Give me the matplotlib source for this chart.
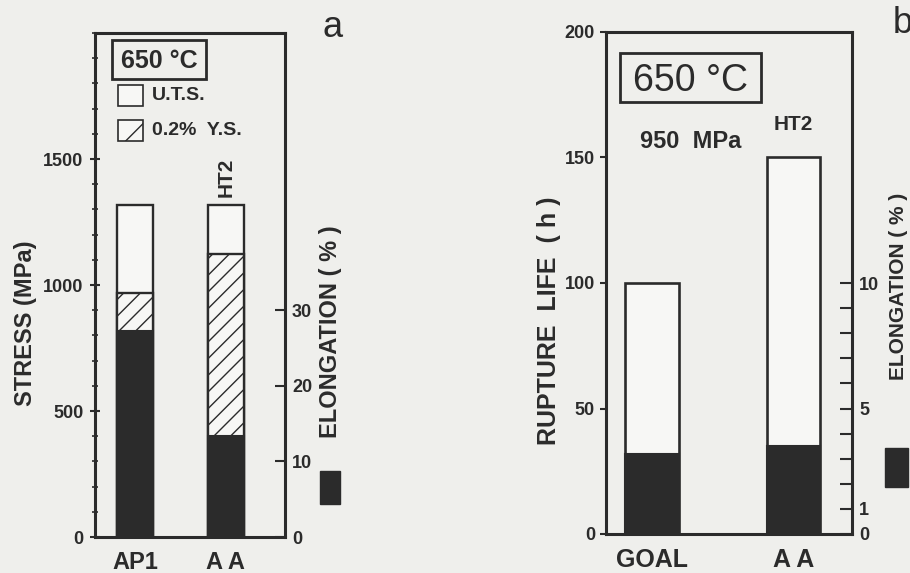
import matplotlib.pyplot as plt
from matplotlib.patches import Rectangle
from matplotlib.ticker import MultipleLocator, FixedLocator, FixedFormatter

plt.rcParams['font.family'] = ['Liberation Sans', 'DejaVu Sans']
plt.rcParams['font.weight'] = 'bold'
plt.rcParams['hatch.linewidth'] = 1.0

# panel a: tensile data at 650 C
alloys_a = ['AP1', 'A A']
uts = [1318, 1318]          # MPa
ys = [970, 1125]            # MPa, 0.2% yield strength
elong_a = [27.3, 13.3]      # %

# panel b: stress rupture at 650 C / 950 MPa
alloys_b = ['GOAL', 'A A']
rupture_life = [100, 150]   # h
elong_b = [3.2, 3.5]        # %

ink = '#2b2b2b'
bg = '#efefec'
face = '#f7f7f5'
W, H = 910, 573

fig = plt.figure(figsize=(9.1, 5.73), dpi=100, facecolor=bg)


def box(l, t, r, b):
    # pixel box -> figure fraction rect
    return [l / W, 1 - b / H, (r - l) / W, (b - t) / H]


def style(ax):
    ax.set_facecolor(bg)
    for s in ax.spines.values():
        s.set_linewidth(2.2)
        s.set_color(ink)


# ---------------- panel a ----------------
ax = fig.add_axes(box(95, 33, 285, 537))
style(ax)
xa = [0, 1]
ax.bar(xa, uts, width=0.40, color=face, edgecolor=ink, linewidth=1.7, zorder=2)
ax.bar(xa, ys, width=0.40, color=face, edgecolor=ink, linewidth=1.7, hatch='//', zorder=3)
ax.set_xlim(-0.44, 1.65)
ax.set_ylim(0, 2000)
ax.set_yticks([0, 500, 1000, 1500])
ax.yaxis.set_minor_locator(MultipleLocator(100))
ax.tick_params(axis='y', which='major', direction='inout', length=7, width=1.5,
               labelsize=13, pad=5, colors=ink)
ax.tick_params(axis='y', which='minor', direction='inout', length=5, width=1.2, colors=ink)
ax.set_xticks(xa)
ax.set_xticklabels(alloys_a, fontsize=17, color=ink)
ax.tick_params(axis='x', length=0, pad=10)

ax2 = ax.twinx()
ax2.bar(xa, elong_a, width=0.40, color=ink, edgecolor=ink, linewidth=1.5, zorder=4)
ax2.set_ylim(0, 2000 / 30)
ax2.set_yticks([0, 10, 20, 30])
ax2.tick_params(axis='y', direction='in', length=7, width=1.5, labelsize=13, pad=5, colors=ink)
for s in ax2.spines.values():
    s.set_visible(False)

ax.annotate('HT2', (xa[1], uts[1]), xytext=(0, 6), textcoords='offset points',
            rotation=90, ha='center', va='bottom', fontsize=15, color=ink)

# legend block
ax.add_patch(Rectangle((0.0895, 0.909), 0.495, 0.0774, transform=ax.transAxes,
                       fill=False, edgecolor=ink, linewidth=2.0, zorder=5))
ax.text(0.337, 0.9306, '650 °C', transform=ax.transAxes, ha='center', va='baseline',
        fontsize=18, color=ink)
ax.add_patch(Rectangle((0.121, 0.855), 0.132, 0.0417, transform=ax.transAxes,
                       facecolor=face, edgecolor=ink, linewidth=1.2))
ax.add_patch(Rectangle((0.121, 0.786), 0.132, 0.0417, transform=ax.transAxes,
                       facecolor=face, edgecolor=ink, linewidth=1.2, hatch='/'))
ax.text(0.30, 0.876, 'U.T.S.', transform=ax.transAxes, ha='left', va='center',
        fontsize=14, color=ink)
ax.text(0.30, 0.8075, '0.2%  Y.S.', transform=ax.transAxes, ha='left', va='center',
        fontsize=14, color=ink)

fig.text(26 / W, 1 - 323 / H, 'STRESS (MPa)', rotation=90, ha='center', va='center',
         fontsize=17, color=ink)
fig.text(331 / W, 1 - 332 / H, 'ELONGATION ( % )', rotation=90, ha='center', va='center',
         fontsize=17, color=ink)
fig.add_artist(Rectangle((320 / W, 1 - 504 / H), 20 / W, 33 / H, transform=fig.transFigure,
                         facecolor=ink, edgecolor=ink))
fig.text(323 / W, 1 - 37 / H, 'a', ha='left', va='baseline', fontsize=26,
         fontweight='normal', color=ink)

# ---------------- panel b ----------------
bx = fig.add_axes(box(606, 32, 852, 534))
style(bx)
xb = [0, 1]
bx.bar(xb, rupture_life, width=0.38, color=face, edgecolor=ink, linewidth=1.9, zorder=2)
bx.set_xlim(-0.325, 1.413)
bx.set_ylim(0, 200)
bx.set_yticks([0, 50, 100, 150, 200])
bx.tick_params(axis='y', direction='out', length=4, width=1.5, labelsize=13, pad=4, colors=ink)
bx.set_xticks(xb)
bx.set_xticklabels(alloys_b, fontsize=18, color=ink)
bx.tick_params(axis='x', length=0, pad=10)

bx2 = bx.twinx()
bx2.bar(xb, elong_b, width=0.38, color=ink, edgecolor=ink, linewidth=1.5, zorder=4)
bx2.set_ylim(0, 20)
bx2.yaxis.set_major_locator(FixedLocator(list(range(11))))
bx2.yaxis.set_major_formatter(FixedFormatter(['0', '1', '', '', '', '5', '', '', '', '', '10']))
bx2.tick_params(axis='y', direction='in', length=9, width=1.5, labelsize=13, pad=5, colors=ink)
for s in bx2.spines.values():
    s.set_visible(False)

bx.add_patch(Rectangle((0.057, 0.861), 0.573, 0.0976, transform=bx.transAxes,
                       fill=False, edgecolor=ink, linewidth=2.0, zorder=5))
bx.text(0.3436, 0.8825, '650 °C', transform=bx.transAxes, ha='center', va='baseline',
        fontsize=27, fontweight='normal', color=ink)
bx.text(0.3455, 0.769, '950  MPa', transform=bx.transAxes, ha='center', va='baseline',
        fontsize=17, color=ink)
bx.annotate('HT2', (xb[1], rupture_life[1]), xytext=(0, 20), textcoords='offset points',
            ha='center', va='baseline', fontsize=15, color=ink)

fig.text(549 / W, 1 - 321 / H, 'RUPTURE  LIFE  ( h )', rotation=90, ha='center', va='center',
         fontsize=18, color=ink)
fig.text(898 / W, 1 - 286 / H, 'ELONGATION ( % )', rotation=90, ha='center', va='center',
         fontsize=15, color=ink)
fig.add_artist(Rectangle((885 / W, 1 - 487 / H), 23 / W, 39 / H, transform=fig.transFigure,
                         facecolor=ink, edgecolor=ink))
fig.text(893 / W, 1 - 33 / H, 'b', ha='left', va='baseline', fontsize=26,
         fontweight='normal', color=ink)

fig.savefig('out.png', dpi=100, facecolor=bg)
